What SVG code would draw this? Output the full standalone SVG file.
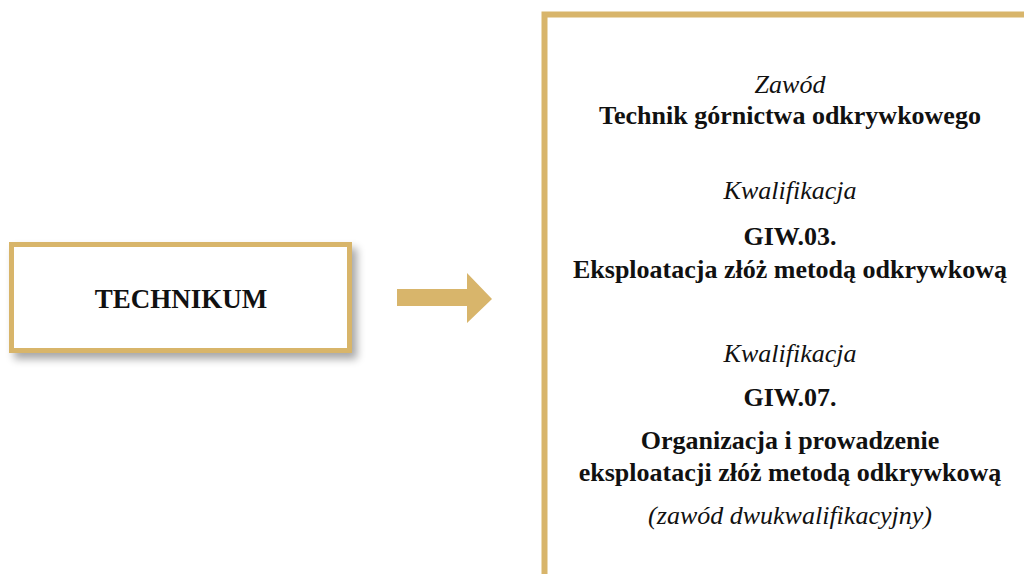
<svg xmlns="http://www.w3.org/2000/svg" width="1024" height="574" viewBox="0 0 1024 574">
<defs>
<style>
.t{font-family:"Liberation Serif","Times New Roman",serif;font-size:26px;fill:#111;text-anchor:middle}
.b{font-weight:bold}
.i{font-style:italic}
.box{fill:#fff;stroke:#D8B56B}
</style>
<filter id="sh" x="-10%" y="-20%" width="130%" height="150%">
<feGaussianBlur in="SourceAlpha" stdDeviation="4"/>
<feOffset dx="5" dy="6" result="o"/>
<feComponentTransfer><feFuncA type="linear" slope="0.35"/></feComponentTransfer>
<feMerge><feMergeNode/><feMergeNode in="SourceGraphic"/></feMerge>
</filter>
</defs>
<rect width="1024" height="574" fill="#fff"/>
<g id="technikum">
<rect class="box" x="11.5" y="244.5" width="338" height="106" stroke-width="5" filter="url(#sh)"/>
<text class="t b" x="181" y="308" style="font-size:27px">TECHNIKUM</text>
</g>
<g id="connectors">
<polygon points="397,289 467,289 467,273 492,299 467,323 467,306 397,306" fill="#D8B56B"/>
</g>
<g id="zawod">
<rect class="box" x="544.5" y="14.5" width="500" height="580" stroke-width="6"/>
<text class="t i" x="790" y="93">Zawód</text>
<text class="t b" x="790" y="124">Technik górnictwa odkrywkowego</text>
<text class="t i" x="790" y="199">Kwalifikacja</text>
<text class="t b" x="790" y="245">GIW.03.</text>
<text class="t b" x="790" y="278">Eksploatacja złóż metodą odkrywkową</text>
<text class="t i" x="790" y="362">Kwalifikacja</text>
<text class="t b" x="790" y="406">GIW.07.</text>
<text class="t b" x="790" y="449">Organizacja i prowadzenie</text>
<text class="t b" x="790" y="481">eksploatacji złóż metodą odkrywkową</text>
<text class="t i" x="790" y="524">(zawód dwukwalifikacyjny)</text>
</g>
</svg>
